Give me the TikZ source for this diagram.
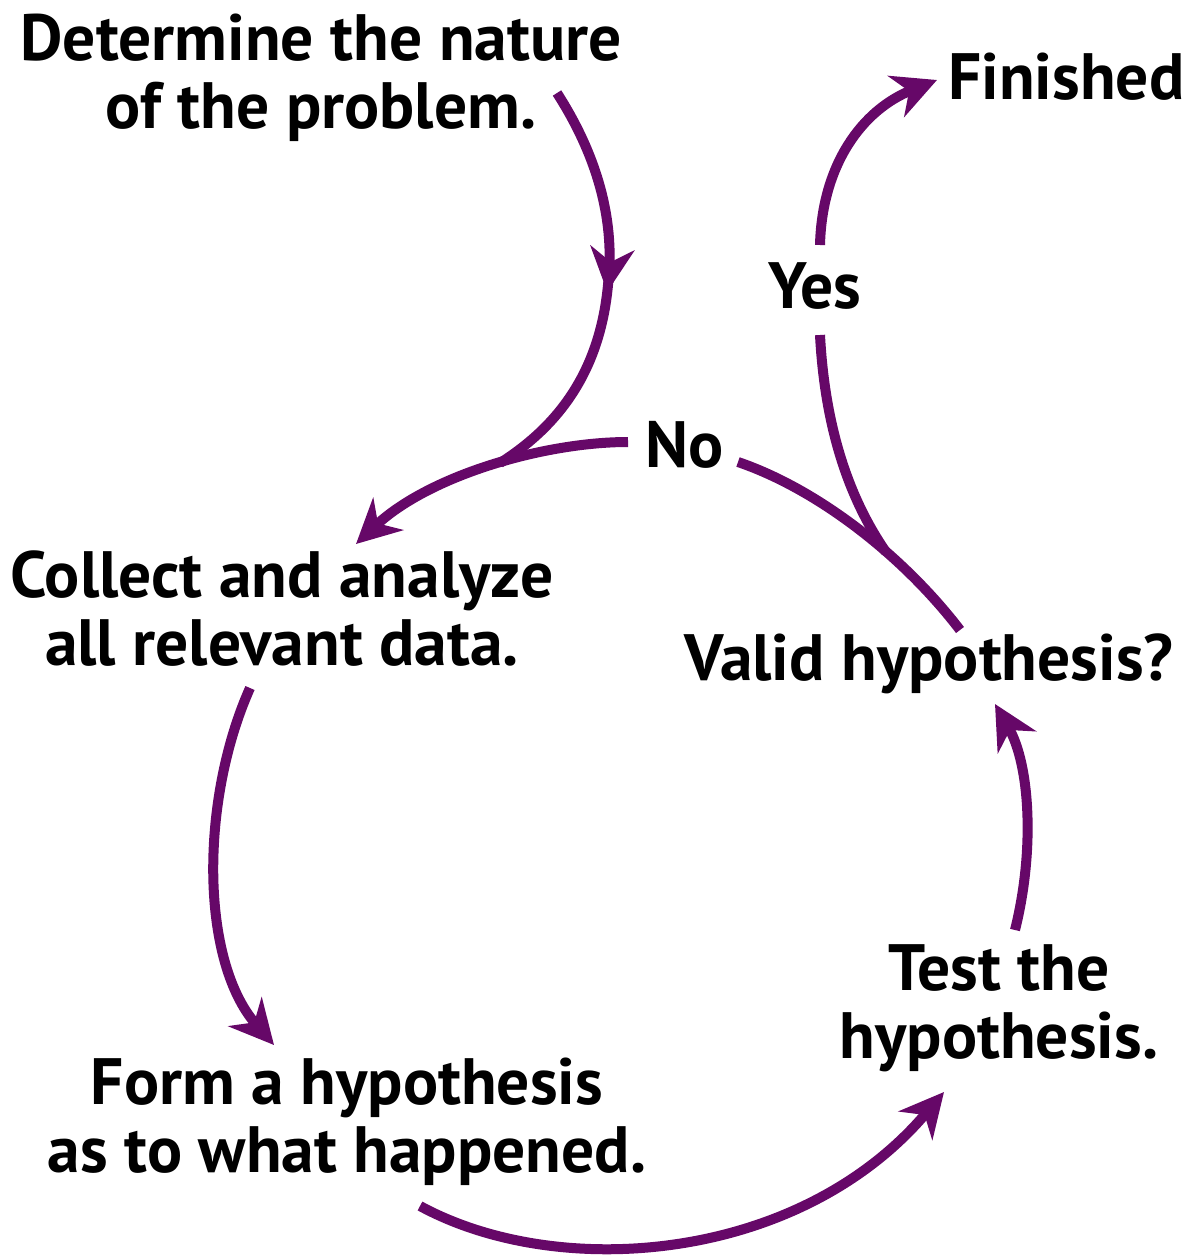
\documentclass[tikz,border=0pt]{standalone}
\usepackage{fontspec}
\setmainfont{PT Sans}
\usetikzlibrary{arrows.meta,decorations.markings}
\definecolor{arrowpurple}{RGB}{102,8,104}
\begin{document}
\begin{tikzpicture}[x=1pt,y=-1pt,
  lbl/.style={font=\fontsize{65.5}{68}\selectfont\bfseries, align=center, inner sep=0pt, text=black},
  conn/.style={draw=arrowpurple, line width=10pt},
  tip/.style={-{Stealth[length=44pt,width=44pt,inset=14pt]}},
  midtip/.style={postaction={decorate}, decoration={markings, mark=at position #1 with {\arrow[arrowpurple]{Stealth[length=44pt,width=44pt,inset=14pt]}}}}
]
\useasboundingbox (0,0) rectangle (1190,1257);

% text nodes
\node[lbl] (det) at (321,78) {Determine the nature\\of the problem.};
\node[lbl, anchor=base west] (fin) at (948,100) {Finished};
\node[lbl, anchor=base] (yes) at (815,308) {Yes};
\node[lbl, anchor=base] (no) at (685,467) {No};
\node[lbl] (col) at (282,609) {Collect and analyze\\all relevant data.};
\node[lbl, anchor=base] (val) at (929,680) {Valid hypothesis?};
\node[lbl] (test) at (999,1008) {Test the\\hypothesis.};
\node[lbl] (form) at (347,1122) {Form a hypothesis\\as to what happened.};

% junction / end points
\coordinate (detout) at (557,93);
\coordinate (merge) at (500,463);
\coordinate (noL) at (628,442);
\coordinate (noR) at (738,462);
\coordinate (colin) at (356,544);
\coordinate (valtop) at (960,630);
\coordinate (yesJ) at (886,552);
\coordinate (yesB) at (820,335);
\coordinate (yesT) at (820,245);
\coordinate (finin) at (937,80);
\coordinate (colout) at (250,688);
\coordinate (formin) at (274,1045);
\coordinate (formout) at (420,1206);
\coordinate (testin) at (944,1092);
\coordinate (testout) at (1015,930);
\coordinate (valin) at (995,704);

% connectors
\path[conn, midtip=0.5] (detout) .. controls (600,160) and (615,225) .. (608,285)
   .. controls (600,370) and (560,425) .. (merge);
\draw[conn, tip] (noL) .. controls (545,442) and (430,475) .. (colin);
\draw[conn] (valtop) .. controls (905,558) and (820,490) .. (noR);
\draw[conn] (yesB) .. controls (825,430) and (850,500) .. (yesJ);
\draw[conn, tip] (yesT) .. controls (822,165) and (862,110) .. (finin);
\draw[conn, tip] (colout) .. controls (200,800) and (200,960) .. (formin);
\draw[conn, tip] (formout) .. controls (560,1282) and (800,1262) .. (testin);
\draw[conn, tip] (testout) .. controls (1035,850) and (1030,765) .. (valin);
\end{tikzpicture}
\end{document}
